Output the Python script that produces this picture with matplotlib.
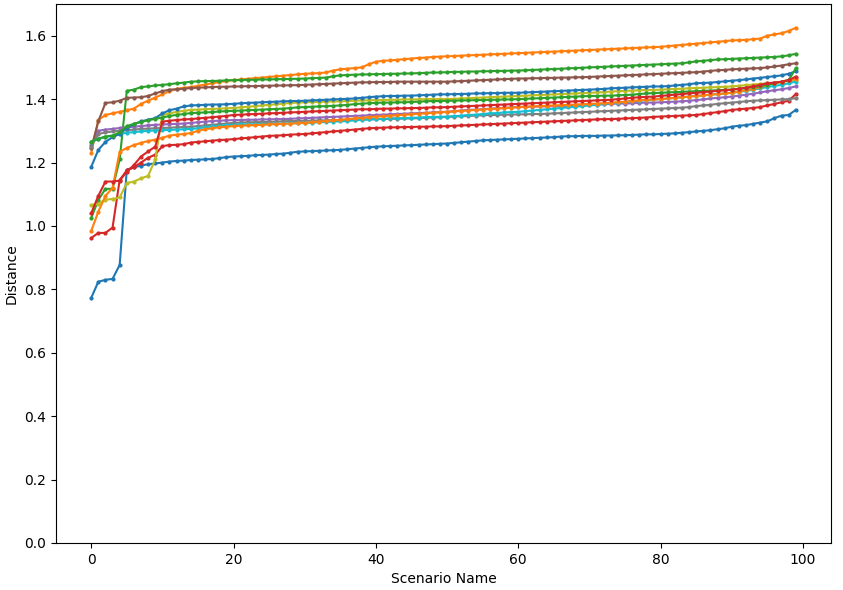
import numpy as np
import matplotlib
matplotlib.use("Agg")
import matplotlib.pyplot as plt

# scenario index on the x axis
scenarios = list(range(100))

# sorted distance per run
blue_a = [
    0.773, 0.824, 0.830, 0.833, 0.877, 1.177, 1.185, 1.190, 1.195, 1.197,
    1.200, 1.203, 1.205, 1.206, 1.208, 1.209, 1.210, 1.211, 1.214, 1.217,
    1.219, 1.220, 1.221, 1.223, 1.224, 1.225, 1.227, 1.228, 1.231, 1.234,
    1.235, 1.236, 1.237, 1.238, 1.239, 1.240, 1.242, 1.244, 1.246, 1.248,
    1.250, 1.251, 1.252, 1.253, 1.254, 1.255, 1.256, 1.257, 1.258, 1.259,
    1.260, 1.262, 1.264, 1.266, 1.268, 1.270, 1.271, 1.272, 1.273, 1.274,
    1.275, 1.276, 1.277, 1.278, 1.279, 1.280, 1.282, 1.283, 1.283, 1.284,
    1.284, 1.284, 1.285, 1.285, 1.286, 1.286, 1.287, 1.288, 1.289, 1.289,
    1.290, 1.291, 1.292, 1.294, 1.296, 1.298, 1.300, 1.302, 1.305, 1.308,
    1.313, 1.316, 1.318, 1.322, 1.326, 1.330, 1.340, 1.348, 1.350, 1.366,
]
orange_a = [
    1.230, 1.334, 1.350, 1.355, 1.360, 1.365, 1.370, 1.385, 1.395, 1.405,
    1.415, 1.425, 1.432, 1.436, 1.438, 1.442, 1.446, 1.450, 1.454, 1.457,
    1.460, 1.462, 1.464, 1.466, 1.468, 1.470, 1.472, 1.474, 1.476, 1.478,
    1.480, 1.481, 1.482, 1.484, 1.490, 1.494, 1.496, 1.498, 1.500, 1.510,
    1.518, 1.521, 1.522, 1.524, 1.526, 1.528, 1.530, 1.531, 1.533, 1.534,
    1.535, 1.536, 1.537, 1.538, 1.539, 1.540, 1.541, 1.542, 1.543, 1.544,
    1.545, 1.546, 1.547, 1.548, 1.549, 1.550, 1.551, 1.552, 1.553, 1.554,
    1.555, 1.556, 1.557, 1.558, 1.559, 1.560, 1.561, 1.562, 1.563, 1.564,
    1.565, 1.567, 1.569, 1.571, 1.573, 1.575, 1.577, 1.579, 1.581, 1.583,
    1.585, 1.586, 1.587, 1.589, 1.591, 1.600, 1.604, 1.608, 1.615, 1.625,
]
green_a = [
    1.025, 1.082, 1.117, 1.117, 1.210, 1.426, 1.430, 1.438, 1.440, 1.443,
    1.445, 1.447, 1.450, 1.452, 1.455, 1.456, 1.457, 1.457, 1.458, 1.459,
    1.460, 1.460, 1.461, 1.461, 1.462, 1.462, 1.463, 1.463, 1.464, 1.464,
    1.465, 1.466, 1.467, 1.468, 1.472, 1.475, 1.476, 1.477, 1.478, 1.478,
    1.479, 1.479, 1.480, 1.480, 1.481, 1.481, 1.482, 1.483, 1.484, 1.484,
    1.485, 1.486, 1.486, 1.487, 1.487, 1.488, 1.488, 1.489, 1.489, 1.490,
    1.490, 1.491, 1.492, 1.493, 1.494, 1.495, 1.496, 1.497, 1.498, 1.499,
    1.500, 1.501, 1.502, 1.503, 1.504, 1.505, 1.506, 1.507, 1.508, 1.509,
    1.510, 1.511, 1.512, 1.513, 1.516, 1.519, 1.521, 1.523, 1.525, 1.526,
    1.527, 1.528, 1.529, 1.530, 1.531, 1.532, 1.533, 1.535, 1.538, 1.543,
]
red_a = [
    0.962, 0.978, 0.978, 0.995, 1.145, 1.175, 1.185, 1.200, 1.215, 1.225,
    1.252, 1.255, 1.256, 1.258, 1.263, 1.265, 1.267, 1.269, 1.271, 1.272,
    1.274, 1.276, 1.278, 1.280, 1.282, 1.284, 1.285, 1.286, 1.288, 1.289,
    1.290, 1.292, 1.294, 1.296, 1.298, 1.300, 1.302, 1.304, 1.306, 1.308,
    1.309, 1.310, 1.311, 1.311, 1.312, 1.312, 1.313, 1.313, 1.314, 1.314,
    1.315, 1.316, 1.317, 1.318, 1.319, 1.320, 1.321, 1.322, 1.323, 1.324,
    1.325, 1.326, 1.327, 1.328, 1.329, 1.330, 1.331, 1.332, 1.333, 1.334,
    1.335, 1.336, 1.337, 1.337, 1.338, 1.339, 1.340, 1.341, 1.342, 1.344,
    1.345, 1.346, 1.347, 1.348, 1.349, 1.350, 1.353, 1.356, 1.359, 1.362,
    1.366, 1.368, 1.370, 1.372, 1.375, 1.380, 1.385, 1.390, 1.395, 1.416,
]
purple = [
    1.255, 1.300, 1.304, 1.306, 1.309, 1.311, 1.313, 1.315, 1.317, 1.319,
    1.320, 1.321, 1.322, 1.323, 1.325, 1.327, 1.329, 1.331, 1.332, 1.333,
    1.334, 1.334, 1.335, 1.335, 1.336, 1.336, 1.337, 1.337, 1.338, 1.339,
    1.340, 1.341, 1.342, 1.343, 1.344, 1.345, 1.346, 1.347, 1.348, 1.349,
    1.350, 1.351, 1.352, 1.353, 1.354, 1.355, 1.356, 1.357, 1.358, 1.359,
    1.360, 1.362, 1.364, 1.366, 1.367, 1.368, 1.370, 1.371, 1.372, 1.374,
    1.375, 1.376, 1.376, 1.377, 1.377, 1.378, 1.378, 1.379, 1.380, 1.381,
    1.382, 1.383, 1.384, 1.385, 1.386, 1.386, 1.387, 1.388, 1.389, 1.389,
    1.390, 1.391, 1.392, 1.393, 1.395, 1.397, 1.399, 1.402, 1.404, 1.406,
    1.408, 1.411, 1.414, 1.417, 1.421, 1.425, 1.428, 1.431, 1.435, 1.440,
]
brown = [
    1.245, 1.330, 1.388, 1.390, 1.395, 1.404, 1.405, 1.406, 1.410, 1.418,
    1.425, 1.430, 1.431, 1.433, 1.435, 1.436, 1.437, 1.438, 1.439, 1.439,
    1.440, 1.440, 1.441, 1.441, 1.442, 1.442, 1.443, 1.443, 1.444, 1.444,
    1.445, 1.446, 1.447, 1.448, 1.449, 1.450, 1.451, 1.452, 1.453, 1.453,
    1.454, 1.454, 1.454, 1.455, 1.455, 1.455, 1.455, 1.455, 1.455, 1.455,
    1.455, 1.456, 1.457, 1.458, 1.459, 1.460, 1.461, 1.462, 1.463, 1.464,
    1.465, 1.465, 1.466, 1.466, 1.467, 1.467, 1.468, 1.468, 1.469, 1.469,
    1.470, 1.471, 1.472, 1.473, 1.474, 1.475, 1.476, 1.477, 1.478, 1.479,
    1.480, 1.481, 1.482, 1.483, 1.484, 1.485, 1.487, 1.489, 1.491, 1.492,
    1.494, 1.495, 1.496, 1.497, 1.498, 1.500, 1.503, 1.506, 1.510, 1.513,
]
gray = [
    1.250, 1.290, 1.295, 1.298, 1.300, 1.302, 1.304, 1.306, 1.307, 1.308,
    1.309, 1.310, 1.311, 1.312, 1.313, 1.315, 1.317, 1.319, 1.321, 1.323,
    1.325, 1.326, 1.327, 1.327, 1.328, 1.328, 1.329, 1.330, 1.331, 1.331,
    1.332, 1.332, 1.333, 1.333, 1.334, 1.334, 1.335, 1.335, 1.336, 1.336,
    1.337, 1.337, 1.338, 1.338, 1.339, 1.339, 1.340, 1.341, 1.342, 1.343,
    1.344, 1.345, 1.346, 1.347, 1.348, 1.349, 1.350, 1.350, 1.351, 1.351,
    1.352, 1.352, 1.353, 1.353, 1.354, 1.355, 1.356, 1.357, 1.358, 1.359,
    1.360, 1.361, 1.362, 1.363, 1.364, 1.365, 1.366, 1.367, 1.368, 1.369,
    1.370, 1.371, 1.372, 1.373, 1.375, 1.378, 1.380, 1.382, 1.385, 1.387,
    1.389, 1.391, 1.393, 1.395, 1.396, 1.397, 1.398, 1.399, 1.400, 1.403,
]
olive = [
    1.066, 1.070, 1.083, 1.085, 1.090, 1.135, 1.140, 1.150, 1.158, 1.210,
    1.350, 1.355, 1.360, 1.363, 1.366, 1.367, 1.368, 1.369, 1.370, 1.371,
    1.372, 1.374, 1.376, 1.378, 1.380, 1.382, 1.384, 1.386, 1.388, 1.389,
    1.390, 1.391, 1.391, 1.392, 1.393, 1.393, 1.394, 1.395, 1.396, 1.396,
    1.397, 1.397, 1.398, 1.398, 1.399, 1.399, 1.399, 1.400, 1.400, 1.400,
    1.400, 1.401, 1.402, 1.403, 1.404, 1.405, 1.406, 1.407, 1.408, 1.409,
    1.410, 1.411, 1.412, 1.413, 1.414, 1.415, 1.416, 1.417, 1.418, 1.419,
    1.420, 1.421, 1.422, 1.424, 1.425, 1.426, 1.427, 1.428, 1.429, 1.429,
    1.430, 1.431, 1.432, 1.433, 1.434, 1.435, 1.436, 1.437, 1.438, 1.439,
    1.440, 1.442, 1.444, 1.446, 1.448, 1.450, 1.452, 1.454, 1.457, 1.460,
]
cyan = [
    1.265, 1.275, 1.280, 1.285, 1.290, 1.294, 1.296, 1.298, 1.300, 1.301,
    1.302, 1.303, 1.304, 1.305, 1.306, 1.308, 1.311, 1.314, 1.316, 1.318,
    1.319, 1.320, 1.320, 1.321, 1.321, 1.322, 1.322, 1.323, 1.324, 1.324,
    1.325, 1.326, 1.327, 1.328, 1.329, 1.330, 1.331, 1.333, 1.335, 1.336,
    1.337, 1.338, 1.339, 1.340, 1.340, 1.341, 1.342, 1.343, 1.344, 1.344,
    1.345, 1.346, 1.348, 1.350, 1.351, 1.353, 1.355, 1.356, 1.358, 1.359,
    1.360, 1.362, 1.364, 1.366, 1.368, 1.370, 1.372, 1.374, 1.376, 1.378,
    1.380, 1.382, 1.385, 1.387, 1.389, 1.391, 1.393, 1.395, 1.397, 1.399,
    1.400, 1.402, 1.404, 1.406, 1.408, 1.410, 1.412, 1.414, 1.416, 1.418,
    1.420, 1.423, 1.426, 1.430, 1.434, 1.438, 1.442, 1.445, 1.450, 1.455,
]
blue_b = [
    1.186, 1.240, 1.265, 1.280, 1.290, 1.310, 1.320, 1.330, 1.335, 1.340,
    1.355, 1.365, 1.370, 1.377, 1.380, 1.381, 1.382, 1.383, 1.383, 1.384,
    1.385, 1.387, 1.388, 1.389, 1.390, 1.391, 1.392, 1.393, 1.394, 1.394,
    1.395, 1.396, 1.397, 1.398, 1.399, 1.400, 1.401, 1.402, 1.404, 1.406,
    1.408, 1.409, 1.410, 1.410, 1.411, 1.411, 1.412, 1.413, 1.414, 1.415,
    1.415, 1.416, 1.416, 1.417, 1.418, 1.418, 1.419, 1.419, 1.420, 1.420,
    1.420, 1.421, 1.422, 1.423, 1.424, 1.425, 1.426, 1.427, 1.428, 1.429,
    1.430, 1.431, 1.432, 1.434, 1.435, 1.436, 1.437, 1.438, 1.439, 1.440,
    1.440, 1.441, 1.443, 1.445, 1.447, 1.450, 1.451, 1.452, 1.454, 1.456,
    1.458, 1.460, 1.462, 1.465, 1.467, 1.470, 1.472, 1.475, 1.480, 1.488,
]
orange_b = [
    0.984, 1.045, 1.095, 1.120, 1.234, 1.246, 1.255, 1.262, 1.268, 1.272,
    1.278, 1.285, 1.288, 1.290, 1.293, 1.300, 1.305, 1.308, 1.311, 1.313,
    1.315, 1.316, 1.317, 1.318, 1.319, 1.320, 1.321, 1.322, 1.323, 1.324,
    1.325, 1.327, 1.329, 1.331, 1.333, 1.335, 1.337, 1.339, 1.341, 1.343,
    1.345, 1.346, 1.348, 1.349, 1.351, 1.352, 1.354, 1.355, 1.357, 1.358,
    1.360, 1.361, 1.363, 1.364, 1.366, 1.367, 1.369, 1.370, 1.372, 1.373,
    1.375, 1.376, 1.377, 1.378, 1.379, 1.380, 1.381, 1.382, 1.383, 1.384,
    1.385, 1.386, 1.387, 1.389, 1.390, 1.392, 1.394, 1.396, 1.398, 1.399,
    1.400, 1.402, 1.404, 1.406, 1.408, 1.410, 1.412, 1.414, 1.416, 1.418,
    1.420, 1.424, 1.428, 1.432, 1.438, 1.445, 1.450, 1.455, 1.460, 1.463,
]
green_b = [
    1.266, 1.275, 1.282, 1.285, 1.295, 1.315, 1.322, 1.328, 1.333, 1.338,
    1.342, 1.347, 1.350, 1.353, 1.356, 1.357, 1.358, 1.359, 1.361, 1.362,
    1.363, 1.364, 1.365, 1.366, 1.367, 1.368, 1.369, 1.370, 1.372, 1.374,
    1.375, 1.376, 1.377, 1.378, 1.379, 1.380, 1.382, 1.384, 1.386, 1.387,
    1.388, 1.389, 1.389, 1.390, 1.390, 1.391, 1.392, 1.393, 1.394, 1.394,
    1.395, 1.395, 1.396, 1.396, 1.397, 1.397, 1.398, 1.398, 1.399, 1.399,
    1.400, 1.401, 1.402, 1.403, 1.404, 1.405, 1.406, 1.407, 1.408, 1.409,
    1.410, 1.410, 1.411, 1.411, 1.412, 1.413, 1.414, 1.416, 1.418, 1.419,
    1.420, 1.421, 1.422, 1.423, 1.424, 1.425, 1.426, 1.427, 1.428, 1.429,
    1.430, 1.432, 1.435, 1.438, 1.441, 1.445, 1.450, 1.455, 1.460, 1.497,
]
red_b = [
    1.040, 1.095, 1.140, 1.140, 1.143, 1.171, 1.192, 1.219, 1.235, 1.250,
    1.329, 1.332, 1.334, 1.336, 1.337, 1.339, 1.341, 1.343, 1.345, 1.347,
    1.350, 1.351, 1.352, 1.353, 1.354, 1.355, 1.356, 1.357, 1.358, 1.359,
    1.360, 1.361, 1.362, 1.363, 1.364, 1.365, 1.366, 1.367, 1.368, 1.368,
    1.369, 1.370, 1.370, 1.371, 1.371, 1.372, 1.372, 1.373, 1.374, 1.374,
    1.375, 1.376, 1.377, 1.378, 1.379, 1.380, 1.381, 1.382, 1.383, 1.384,
    1.385, 1.386, 1.387, 1.388, 1.389, 1.390, 1.391, 1.392, 1.393, 1.394,
    1.395, 1.396, 1.397, 1.398, 1.400, 1.402, 1.404, 1.406, 1.407, 1.408,
    1.410, 1.412, 1.414, 1.416, 1.418, 1.420, 1.422, 1.424, 1.426, 1.428,
    1.430, 1.433, 1.436, 1.440, 1.445, 1.450, 1.452, 1.455, 1.460, 1.471,
]

runs = [
    (blue_a, "C0"), (orange_a, "C1"), (green_a, "C2"), (red_a, "C3"),
    (purple, "C4"), (brown, "C5"), (gray, "C7"), (olive, "C8"),
    (cyan, "C9"), (blue_b, "C0"), (orange_b, "C1"), (green_b, "C2"),
    (red_b, "C3"),
]

fig, ax = plt.subplots(figsize=(8.43, 5.90), dpi=100)
fig.subplots_adjust(left=0.0664, right=0.9858, bottom=0.0797, top=0.9932)

for values, color in runs:
    ax.plot(scenarios, values, color=color, marker="o", markersize=2)

ax.set_ylim(0, 1.7)
ax.set_xlabel("Scenario Name")
ax.set_ylabel("Distance")

plt.savefig("out.png", dpi=100)
